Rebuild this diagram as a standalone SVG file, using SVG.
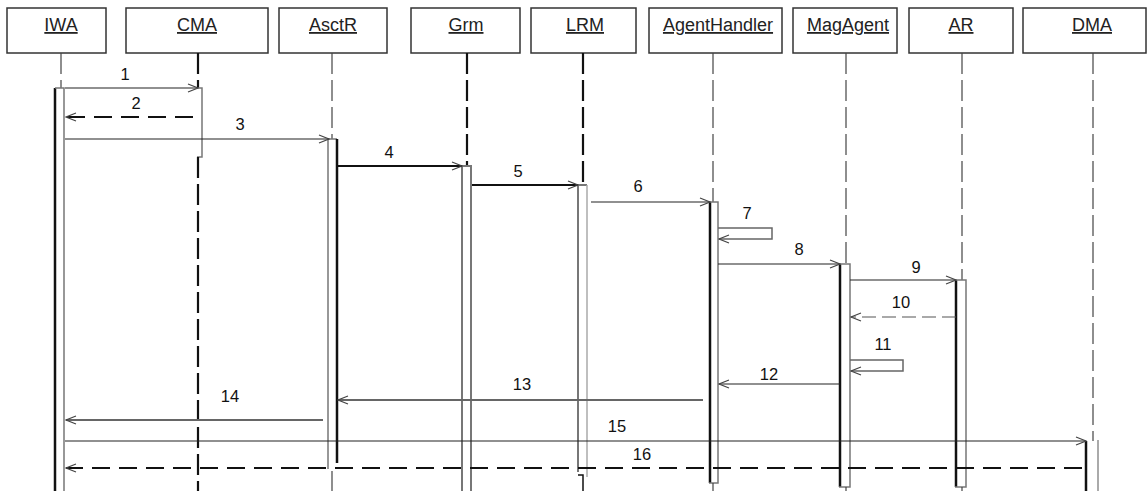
<svg xmlns="http://www.w3.org/2000/svg" width="1147" height="491" viewBox="0 0 1147 491">
<style>
.box{fill:#fff;stroke:#333;stroke-width:1.5}
.hd{font-family:"Liberation Sans",Arial,sans-serif;font-size:18px;fill:#222;text-anchor:middle;text-decoration:underline}
.num{font-family:"Liberation Sans",Arial,sans-serif;font-size:16.5px;fill:#111;text-anchor:middle}
.llt{stroke:#444;stroke-width:1.2;stroke-dasharray:21 6;fill:none}
.llk{stroke:#111;stroke-width:2.2;stroke-dasharray:21 6;fill:none}
.bk{stroke:#111;stroke-width:2.5;fill:none}
.bg{stroke:#777;stroke-width:1.5;fill:none}
.bl{stroke:#aaa;stroke-width:1.5;fill:none}
.m{stroke:#222;stroke-width:1.2;fill:none;marker-end:url(#ah)}
.mt{stroke:#111;stroke-width:2;fill:none;marker-end:url(#ah)}
.mg{stroke:#666;stroke-width:1.8;fill:none;marker-end:url(#ah)}
.dk{stroke:#111;stroke-width:2.2;stroke-dasharray:18 9;fill:none;marker-end:url(#ah)}
.dg{stroke:#555;stroke-width:1.2;stroke-dasharray:14 6;fill:none;marker-end:url(#ah)}
</style>
<defs>
<marker id="ah" markerWidth="12" markerHeight="10" refX="11" refY="5" orient="auto" markerUnits="userSpaceOnUse">
<path d="M1,1 L11,5 L1,9" fill="none" stroke="#444" stroke-width="1.2"/>
</marker>
</defs>
<rect width="1147" height="491" fill="#fff"/>

<g id="IWA">
<rect class="box" x="7" y="8" width="99" height="45"/>
<text class="hd" x="61" y="31">IWA</text>
<line class="llt" x1="61" y1="53" x2="61" y2="88"/>
<path class="bk" d="M55,491 V88"/>
<path class="bg" d="M55,88 H64 V491"/>
</g>
<g id="CMA">
<rect class="box" x="126" y="8" width="142" height="45"/>
<text class="hd" x="197" y="31">CMA</text>
<line class="llk" x1="198" y1="53" x2="198" y2="88"/>
<path class="bg" d="M198,88 H202 V157 H197"/>
<line class="llk" x1="198" y1="157" x2="198" y2="491"/>
</g>
<g id="AsctR">
<rect class="box" x="279" y="8" width="108" height="45"/>
<text class="hd" x="333" y="31">AsctR</text>
<line class="llt" x1="332" y1="53" x2="332" y2="139"/>
<path class="bg" d="M328,469 V139 H337"/>
<path class="bk" d="M337,139 V463"/>
<line class="llt" x1="332" y1="471" x2="332" y2="491"/>
</g>
<g id="Grm">
<rect class="box" x="411" y="8" width="109" height="45"/>
<text class="hd" x="466" y="31">Grm</text>
<line class="llk" x1="467" y1="53" x2="467" y2="166"/>
<path class="bg" style="stroke-width:2" d="M462,491 V166 H471 V491"/>
</g>
<g id="LRM">
<rect class="box" x="531" y="8" width="105" height="45"/>
<text class="hd" x="585" y="31">LRM</text>
<line class="llk" x1="583" y1="53" x2="583" y2="185"/>
<path class="bg" style="stroke-width:2" d="M578,472 V185 H587"/>
<path class="bl" d="M587,185 V477"/>
<path class="bk" style="stroke-width:1.5" d="M578,475 H583 V491"/>
</g>
<g id="AgentHandler">
<rect class="box" x="649" y="8" width="133" height="45"/>
<text class="hd" x="718" y="31">AgentHandler</text>
<line class="llt" x1="713" y1="53" x2="713" y2="202"/>
<path class="bk" d="M710,202 V483"/>
<path class="bg" d="M710,202 H718 V483 H709"/>
<line class="llt" x1="713" y1="483" x2="713" y2="491"/>
</g>
<g id="MagAgent">
<rect class="box" x="793" y="8" width="104" height="45"/>
<text class="hd" x="848" y="31">MagAgent</text>
<line class="llt" x1="846" y1="53" x2="846" y2="264"/>
<path class="bk" d="M840,264 V487"/>
<path class="bg" d="M840,264 H850 V487 H839"/>
<line class="llt" x1="846" y1="487" x2="846" y2="491"/>
</g>
<g id="AR">
<rect class="box" x="909" y="8" width="104" height="45"/>
<text class="hd" x="961" y="31">AR</text>
<line class="llt" x1="962" y1="53" x2="962" y2="280"/>
<path class="bk" d="M956,280 V487"/>
<path class="bg" d="M956,280 H966 V487 H955"/>
<line class="llt" x1="962" y1="487" x2="962" y2="491"/>
</g>
<g id="DMA">
<rect class="box" x="1023" y="8" width="123" height="45"/>
<text class="hd" x="1092" y="31">DMA</text>
<line class="llt" x1="1093" y1="53" x2="1093" y2="441"/>
<path class="bk" d="M1086,441 V491"/>
<path class="bl" style="stroke-width:2" d="M1098,440 V491"/>
</g>

<g id="connectors">
<path class="m" d="M65,88 H198"/>
<path class="dk" d="M193,117 H66"/>
<path class="m" d="M65,139 H329"/>
<path class="mt" d="M337,166 H462"/>
<path class="mt" d="M472,185 H578"/>
<path class="m" d="M591,202 H710"/>
<path class="mg" style="stroke-width:1.5" d="M718,228 H772 V239 H719"/>
<path class="m" d="M718,264 H840"/>
<path class="m" d="M850,280 H956"/>
<path class="dg" d="M956,317 H851"/>
<path class="mg" style="stroke-width:1.5" d="M850,360 H903 V371 H851"/>
<path class="m" d="M840,384 H719"/>
<path class="mg" d="M703,400 H338"/>
<path class="mg" d="M323,420 H66"/>
<path class="m" d="M65,441 H1086"/>
<path class="dk" d="M1082,468 H66"/>
</g>

<g id="labels">
<text class="num" x="125" y="80">1</text>
<text class="num" x="136" y="109">2</text>
<text class="num" x="240" y="130">3</text>
<text class="num" x="389" y="158">4</text>
<text class="num" x="518" y="177">5</text>
<text class="num" x="638" y="192">6</text>
<text class="num" x="747" y="219">7</text>
<text class="num" x="799" y="255">8</text>
<text class="num" x="916" y="273">9</text>
<text class="num" x="901" y="308">10</text>
<text class="num" x="883" y="350">11</text>
<text class="num" x="769" y="380">12</text>
<text class="num" x="522" y="390">13</text>
<text class="num" x="230" y="402">14</text>
<text class="num" x="617" y="432">15</text>
<text class="num" x="642" y="460">16</text>
</g>
</svg>
